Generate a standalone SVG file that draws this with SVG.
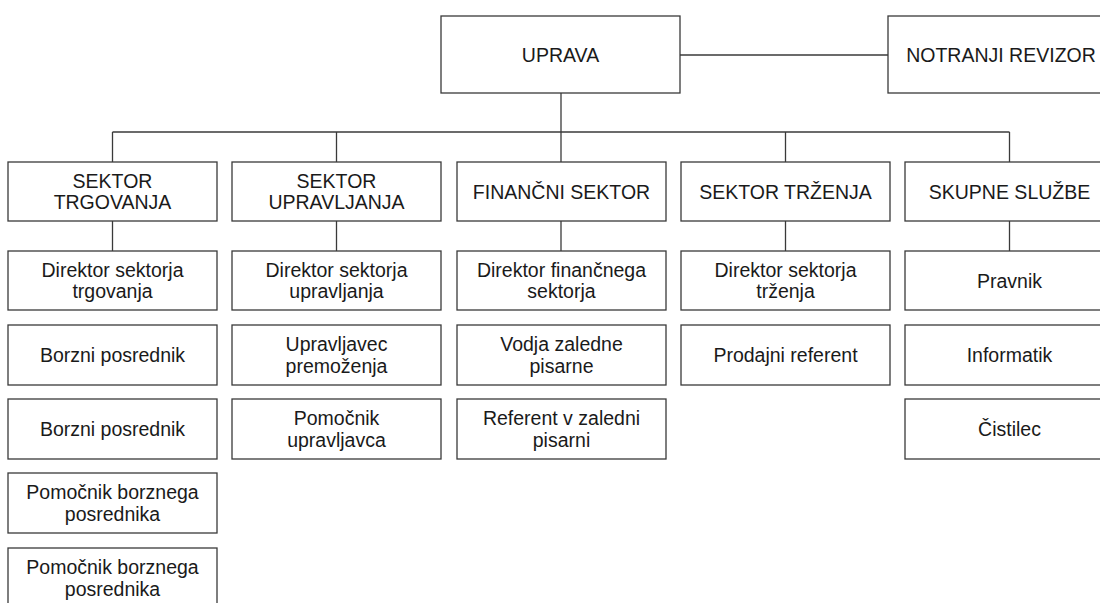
<svg xmlns="http://www.w3.org/2000/svg" width="1100" height="603" viewBox="0 0 1100 603">
<style>
  .box { fill: #ffffff; stroke: #3a3a3a; stroke-width: 1.3; }
  .conn { fill: none; stroke: #3a3a3a; stroke-width: 1.3; }
  text { font-family: "Liberation Sans", Arial, sans-serif; font-size: 19.5px; fill: #1a1a1a; text-anchor: middle; }
</style>
<rect x="0" y="0" width="1100" height="603" fill="#ffffff"/>
<g id="connectors">
  <line class="conn" x1="680" y1="55" x2="888" y2="55"/>
  <line class="conn" x1="561" y1="93" x2="561" y2="132"/>
  <line class="conn" x1="112.5" y1="132" x2="1009.5" y2="132"/>
  <line class="conn" x1="112.5" y1="132" x2="112.5" y2="162"/>
  <line class="conn" x1="336.5" y1="132" x2="336.5" y2="162"/>
  <line class="conn" x1="561" y1="132" x2="561" y2="162"/>
  <line class="conn" x1="785.5" y1="132" x2="785.5" y2="162"/>
  <line class="conn" x1="1009.5" y1="132" x2="1009.5" y2="162"/>
  <line class="conn" x1="112.5" y1="221" x2="112.5" y2="251"/>
  <line class="conn" x1="336.5" y1="221" x2="336.5" y2="251"/>
  <line class="conn" x1="561" y1="221" x2="561" y2="251"/>
  <line class="conn" x1="785.5" y1="221" x2="785.5" y2="251"/>
  <line class="conn" x1="1009.5" y1="221" x2="1009.5" y2="251"/>
</g>
<g id="uprava"><rect class="box" x="441" y="16" width="239" height="77"/><text x="560.5" y="61.5">UPRAVA</text></g>
<g id="notranji-revizor"><rect class="box" x="888" y="16" width="226" height="77"/><text x="1001" y="61.5">NOTRANJI REVIZOR</text></g>

<g id="sektor-trgovanja"><rect class="box" x="8" y="162" width="209" height="59"/><text x="112.5" y="187.7">SEKTOR</text><text x="112.5" y="209.3">TRGOVANJA</text></g>
<g id="sektor-upravljanja"><rect class="box" x="232" y="162" width="209" height="59"/><text x="336.5" y="187.7">SEKTOR</text><text x="336.5" y="209.3">UPRAVLJANJA</text></g>
<g id="financni-sektor"><rect class="box" x="457" y="162" width="209" height="59"/><text x="561.5" y="198.5">FINANČNI SEKTOR</text></g>
<g id="sektor-trzenja"><rect class="box" x="681" y="162" width="209" height="59"/><text x="785.5" y="198.5">SEKTOR TRŽENJA</text></g>
<g id="skupne-sluzbe"><rect class="box" x="905" y="162" width="209" height="59"/><text x="1009.5" y="198.5">SKUPNE SLUŽBE</text></g>

<g id="dir-trgovanja"><rect class="box" x="8" y="251" width="209" height="59"/><text x="112.5" y="276.5">Direktor sektorja</text><text x="112.5" y="298">trgovanja</text></g>
<g id="borzni-1"><rect class="box" x="8" y="325" width="209" height="60"/><text x="112.5" y="361.5">Borzni posrednik</text></g>
<g id="borzni-2"><rect class="box" x="8" y="399" width="209" height="60"/><text x="112.5" y="435.5">Borzni posrednik</text></g>
<g id="pomocnik-borznega-1"><rect class="box" x="8" y="473" width="209" height="60"/><text x="112.5" y="499">Pomočnik borznega</text><text x="112.5" y="520.5">posrednika</text></g>
<g id="pomocnik-borznega-2"><rect class="box" x="8" y="548" width="209" height="60"/><text x="112.5" y="574">Pomočnik borznega</text><text x="112.5" y="595.5">posrednika</text></g>

<g id="dir-upravljanja"><rect class="box" x="232" y="251" width="209" height="59"/><text x="336.5" y="276.5">Direktor sektorja</text><text x="336.5" y="298">upravljanja</text></g>
<g id="upravljavec"><rect class="box" x="232" y="325" width="209" height="60"/><text x="336.5" y="351">Upravljavec</text><text x="336.5" y="372.5">premoženja</text></g>
<g id="pomocnik-upravljavca"><rect class="box" x="232" y="399" width="209" height="60"/><text x="336.5" y="425">Pomočnik</text><text x="336.5" y="446.5">upravljavca</text></g>

<g id="dir-financnega"><rect class="box" x="457" y="251" width="209" height="59"/><text x="561.5" y="276.5">Direktor finančnega</text><text x="561.5" y="298">sektorja</text></g>
<g id="vodja-zaledne"><rect class="box" x="457" y="325" width="209" height="60"/><text x="561.5" y="351">Vodja zaledne</text><text x="561.5" y="372.5">pisarne</text></g>
<g id="referent-zaledni"><rect class="box" x="457" y="399" width="209" height="60"/><text x="561.5" y="425">Referent v zaledni</text><text x="561.5" y="446.5">pisarni</text></g>

<g id="dir-trzenja"><rect class="box" x="681" y="251" width="209" height="59"/><text x="785.5" y="276.5">Direktor sektorja</text><text x="785.5" y="298">trženja</text></g>
<g id="prodajni-referent"><rect class="box" x="681" y="325" width="209" height="60"/><text x="785.5" y="361.5">Prodajni referent</text></g>

<g id="pravnik"><rect class="box" x="905" y="251" width="209" height="59"/><text x="1009.5" y="287.5">Pravnik</text></g>
<g id="informatik"><rect class="box" x="905" y="325" width="209" height="60"/><text x="1009.5" y="361.5">Informatik</text></g>
<g id="cistilec"><rect class="box" x="905" y="399" width="209" height="60"/><text x="1009.5" y="435.5">Čistilec</text></g>
</svg>
